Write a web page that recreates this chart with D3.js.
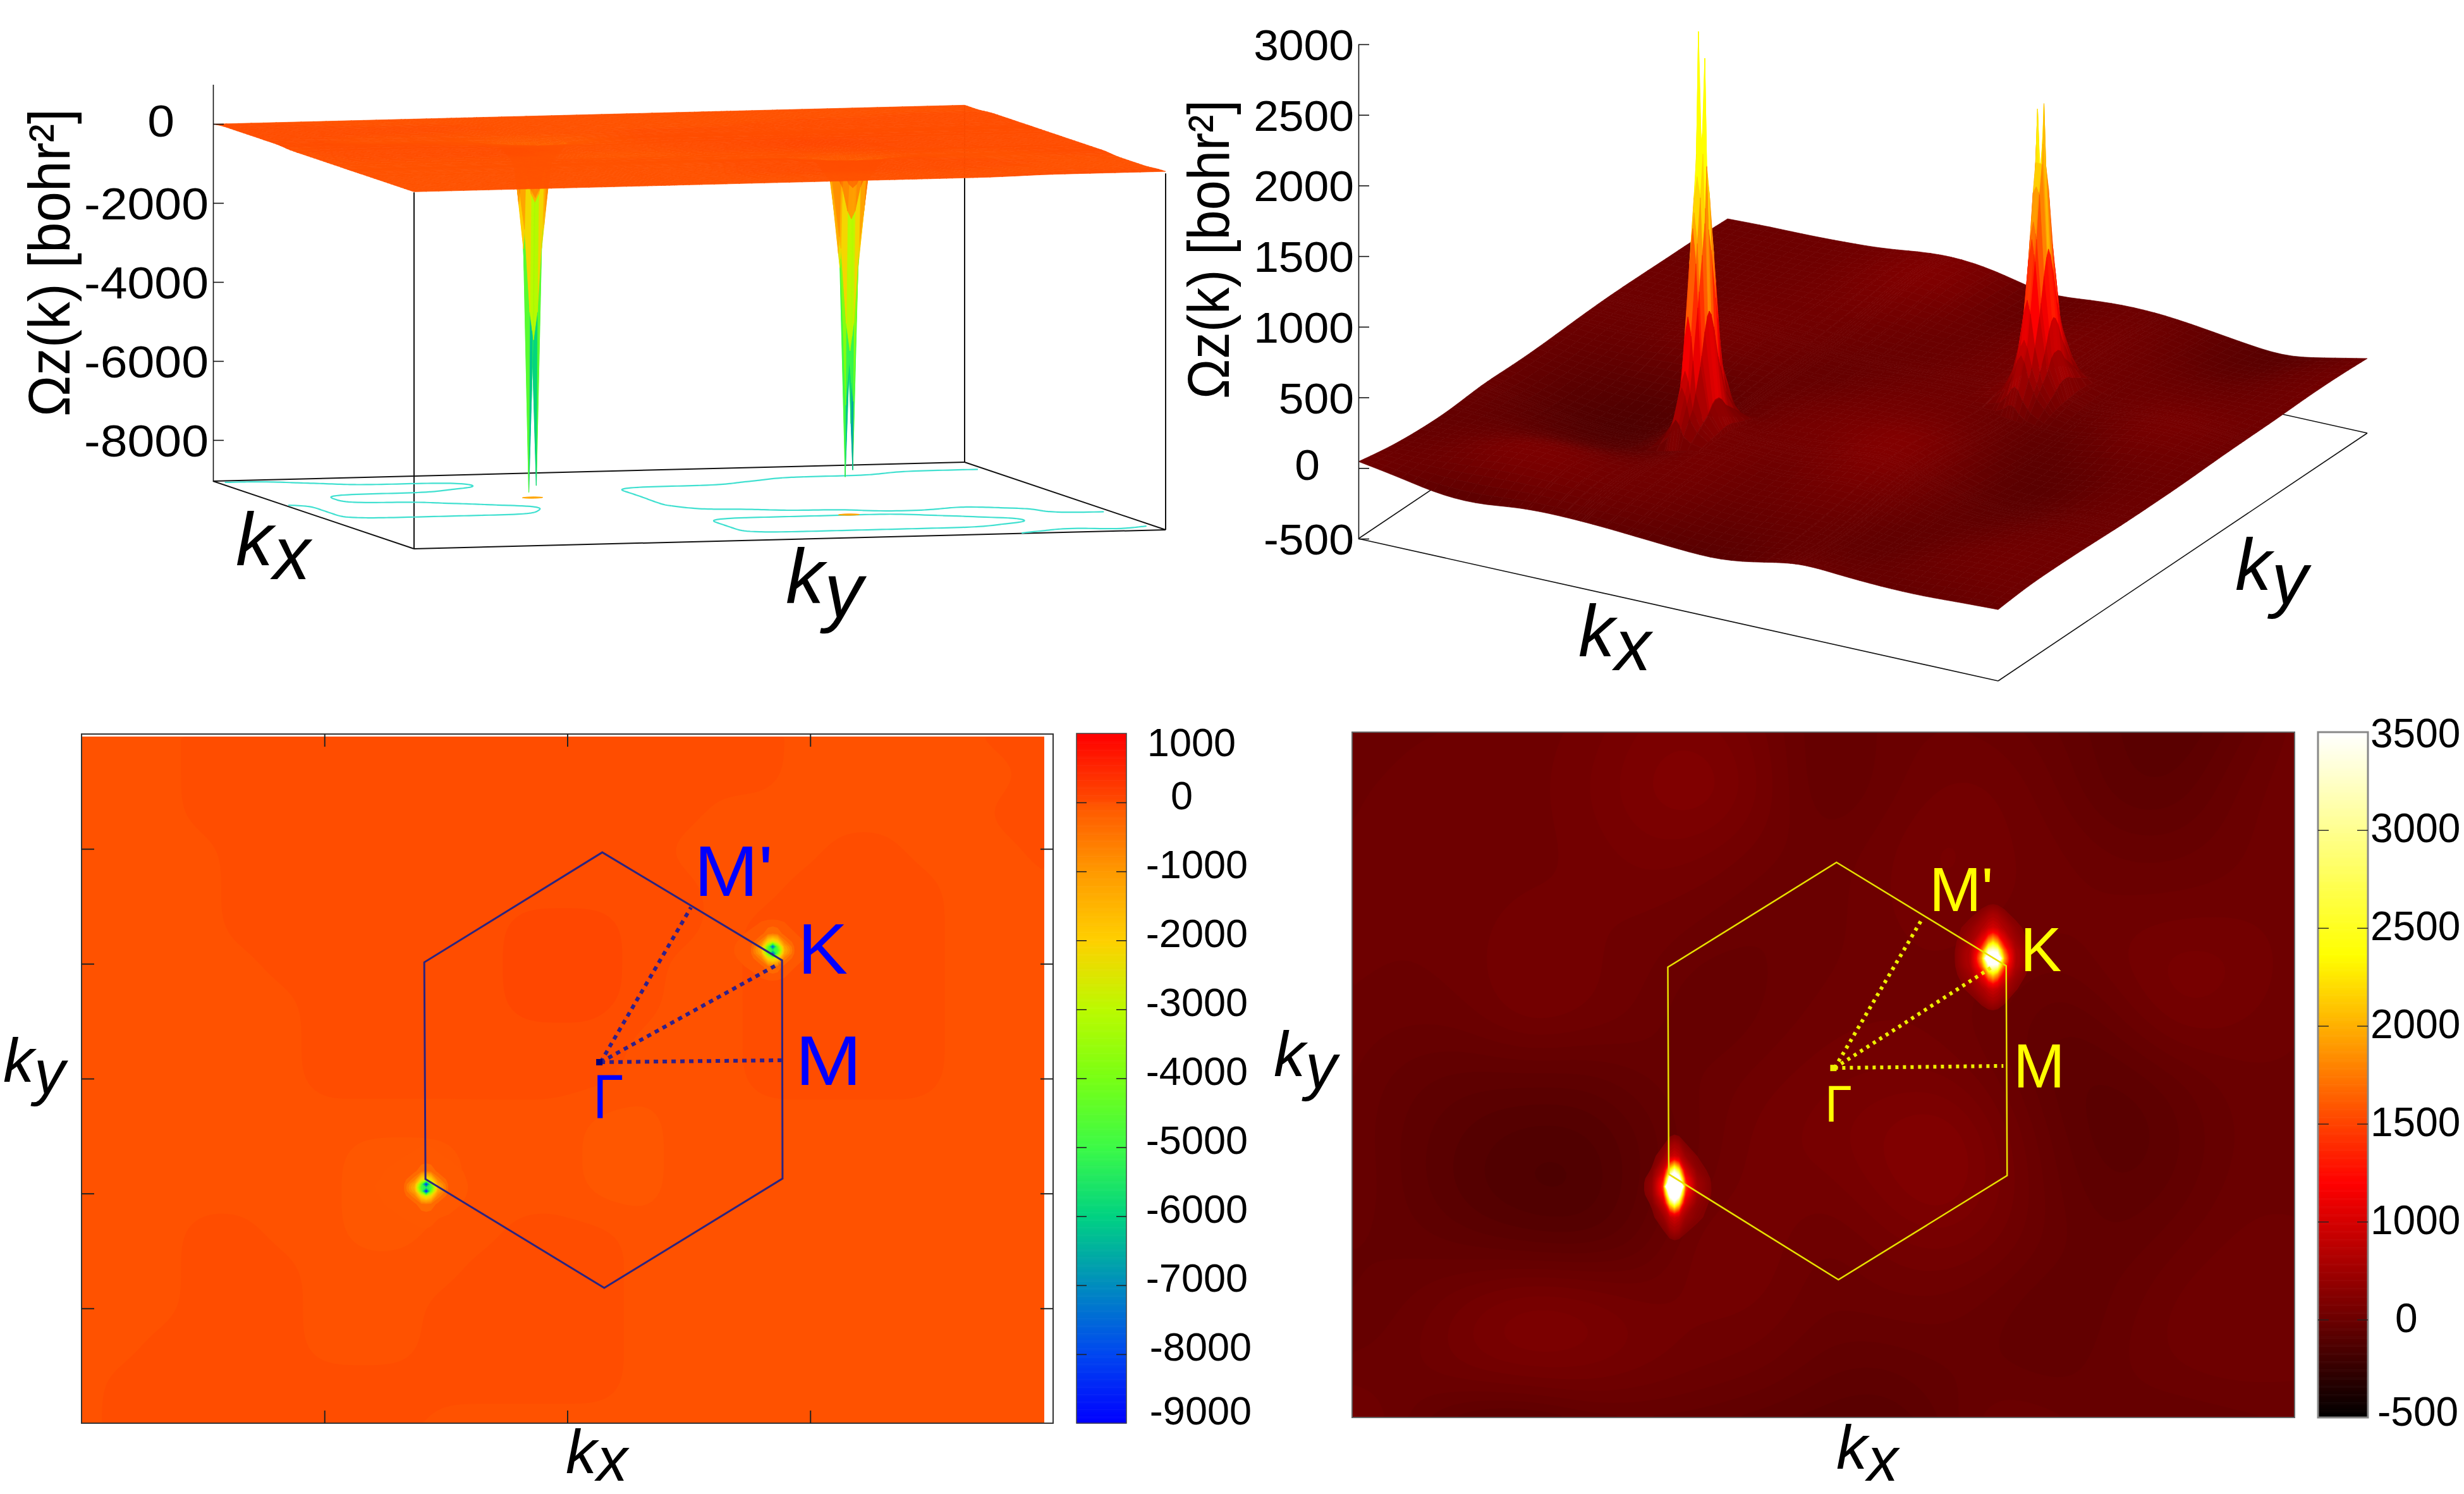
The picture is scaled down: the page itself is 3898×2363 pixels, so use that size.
<!DOCTYPE html>
<html>
<head>
<meta charset="utf-8">
<script src="https://d3js.org/d3.v7.min.js"></script>
<style>
  html, body { margin: 0; background: #fff; }
  text { font-family: "Liberation Sans", Arial, sans-serif; fill: #000; }
</style>
</head>
<body>
<svg id="fig" width="3898" height="2363" xmlns="http://www.w3.org/2000/svg"></svg>
<script>
// Berry curvature Omega_z(k) of two bands: 3D surfaces on top, colour maps below.

// Slowly varying background of the negative band, rows run from top (ky max) to bottom.
const valleyBackground = [
  [-15,-15,-15,20,20,20,20,20,20,20,20,20,20,20,20,20,20,20,-15,-15,-15,-15,-15,20,20],
  [-15,-15,-15,20,20,20,20,20,20,20,20,20,20,20,20,20,20,20,-15,-15,-15,-15,-15,-15,20],
  [-15,-15,-15,20,20,20,20,20,20,20,20,20,20,20,20,20,-15,-15,-15,-15,-15,-15,-15,20,20],
  [-15,-15,-15,-15,20,20,20,20,20,20,20,20,20,20,20,-15,-15,-15,-15,20,20,-15,-15,-15,20],
  [-15,-15,-15,-15,20,20,20,20,20,20,20,20,20,20,20,20,-15,-15,20,20,20,20,-15,-15,-15],
  [-15,-15,-15,-15,20,20,20,20,20,20,20,50,50,50,20,20,-15,20,20,20,20,20,-15,-15,-15],
  [-15,-15,-15,-15,-15,20,20,20,20,20,20,50,50,50,20,-15,-15,20,20,20,20,20,-15,-15,-15],
  [-15,-15,-15,-15,-15,-15,20,20,20,20,20,50,50,50,20,-15,-15,20,20,20,20,20,-15,-15,-15],
  [-15,-15,-15,-15,-15,-15,20,20,20,20,20,20,20,20,-15,-15,-15,20,20,20,20,20,-15,-15,-15],
  [-15,-15,-15,-15,-15,-15,20,20,20,20,20,20,20,20,-15,-15,-15,20,20,20,20,20,-15,-15,-15],
  [-15,-15,-15,-15,-15,-15,-15,-15,-15,-15,-15,-15,-15,-50,-50,-15,-15,-15,-15,-15,-15,-15,-15,-15,-15],
  [-15,-15,-15,-15,-15,-15,-15,-50,-50,-50,-15,-15,-15,-50,-50,-15,-15,-15,-15,-15,-15,-15,-15,-15,-15],
  [-15,-15,-15,-15,-15,-15,-15,-50,-50,-50,-15,-15,-15,-50,-50,-15,-15,-15,-15,-15,-15,-15,-15,-15,-15],
  [-15,-15,-15,20,20,-15,-15,-50,-50,-15,-15,20,20,20,-15,-15,-15,-15,-15,-15,-15,-15,-15,-15,-15],
  [-15,-15,-15,20,20,20,-15,-15,-15,-15,20,20,20,20,-15,-15,-15,-15,-15,-15,-15,-15,-15,-15,-15],
  [-15,-15,-15,20,20,20,-15,-15,-15,20,20,20,20,20,-15,-15,-15,-15,-15,-15,-15,-15,-15,-15,-15],
  [-15,-15,20,20,20,20,-15,-15,-15,20,20,20,20,20,-15,-15,-15,-15,-15,-15,-15,-15,-15,-15,-15],
  [-15,20,20,20,20,20,20,20,20,20,20,20,20,20,-15,-15,-15,-15,-15,-15,-15,-15,-15,-15,-15],
  [-15,20,20,20,20,20,20,20,20,-15,-15,-15,-15,-15,-15,-15,-15,-15,-15,-15,-15,-15,-15,-15,-15]
];

// Background of the positive band, same orientation.
const peakBackground = [
  [10,20,20,30,45,90,95,45,-30,5,25,15,-20,-60,-90,-30,28],
  [20,25,25,30,60,110,135,60,-35,5,45,45,0,-60,-65,5,40],
  [20,20,25,30,45,80,70,30,5,30,80,45,25,-10,-10,15,40],
  [25,20,30,45,40,45,25,0,5,40,60,45,30,25,25,30,30],
  [25,20,30,70,45,25,-5,-5,15,30,40,25,0,45,80,70,30],
  [15,5,15,70,45,15,-35,0,30,40,30,0,-50,-5,70,45,25],
  [0,-35,-50,-50,-50,-15,5,30,55,60,60,15,-65,-65,-25,15,15],
  [-5,-50,-90,-115,-110,-55,5,55,70,110,140,60,-40,-90,-50,5,15],
  [5,-50,-100,-135,-135,-50,15,60,45,90,140,70,-25,-65,-40,15,15],
  [-25,-25,-50,-70,-80,-40,80,60,5,45,70,40,-15,-40,0,30,25],
  [-20,0,60,110,95,45,45,45,0,15,15,-15,-55,-15,30,45,30],
  [0,15,70,100,85,55,30,15,-30,-40,-15,-25,-40,0,30,40,30],
  [46,0,-60,-70,-25,-20,-30,-50,-70,-85,-40,25,0,-15,-20,-5,5]
];

// Node offsets around a K point, shared by the fine tables below (dkx on columns, dky on rows).
const kOffsets = [-0.08,-0.045,-0.024,-0.012,-0.005,0,0.005,0.012,0.024,0.045,0.08];

const valleyAtK1 = [
  [0,0,-3,-5,-6,-6,-6,-5,-3,0,0],
  [0,-12,-25,-40,-55,-60,-55,-40,-25,-12,0],
  [0,-20,-80,-220,-480,-550,-480,-220,-80,-20,0],
  [0,-25,-130,-700,-2200,-2700,-2200,-700,-130,-25,0],
  [0,-30,-170,-1300,-4300,-8870,-4300,-1300,-170,-30,0],
  [0,-30,-180,-1500,-5000,-5500,-5000,-1500,-180,-30,0],
  [0,-30,-170,-1300,-4300,-8700,-4300,-1300,-170,-30,0],
  [0,-25,-130,-700,-2200,-2700,-2200,-700,-130,-25,0],
  [0,-20,-80,-220,-480,-550,-480,-220,-80,-20,0],
  [0,-12,-25,-40,-55,-60,-55,-40,-25,-12,0],
  [0,0,-3,-5,-6,-6,-6,-5,-3,0,0]
];
const valleyAtK2 = [
  [0,0,-3,-6,-7,-8,-7,-6,-3,0,0],
  [0,-14,-28,-45,-60,-70,-60,-45,-28,-14,0],
  [0,-22,-90,-250,-540,-620,-540,-250,-90,-22,0],
  [0,-28,-140,-750,-2300,-2800,-2300,-750,-140,-28,0],
  [0,-32,-180,-1350,-4200,-8090,-4200,-1350,-180,-32,0],
  [0,-32,-190,-1550,-4900,-5400,-4900,-1550,-190,-32,0],
  [0,-32,-180,-1350,-4200,-7920,-4200,-1350,-180,-32,0],
  [0,-28,-140,-750,-2300,-2800,-2300,-750,-140,-28,0],
  [0,-22,-90,-250,-540,-620,-540,-250,-90,-22,0],
  [0,-14,-28,-45,-60,-70,-60,-45,-28,-14,0],
  [0,0,-3,-6,-7,-8,-7,-6,-3,0,0]
];
const peakAtK1 = [
  [0,0,8,30,70,90,70,30,8,0,0],
  [0,20,120,240,450,520,450,240,120,20,0],
  [0,30,180,520,1250,1500,1250,520,180,30,0],
  [0,35,240,750,1700,1850,1700,750,240,35,0],
  [0,35,260,850,2000,2100,2000,850,260,35,0],
  [0,35,260,880,2860,1950,2670,880,260,35,0],
  [0,35,260,850,1950,2050,1900,850,260,35,0],
  [0,35,240,750,1700,1850,1700,750,240,35,0],
  [0,30,180,520,1250,1500,1250,520,180,30,0],
  [0,20,120,240,450,520,450,240,120,20,0],
  [0,0,8,30,70,90,70,30,8,0,0]
];
const peakAtK2 = [
  [0,0,8,40,75,85,75,40,8,0,0],
  [0,30,150,300,430,480,430,300,150,30,0],
  [0,40,240,620,1000,1150,1000,620,240,40,0],
  [0,40,320,880,1450,1500,1450,880,320,40,0],
  [0,40,340,1000,1650,1650,1650,1000,340,40,0],
  [0,40,340,1050,2020,1430,2070,1050,340,40,0],
  [0,40,340,1000,1620,1620,1620,1000,340,40,0],
  [0,40,320,880,1450,1500,1450,880,320,40,0],
  [0,40,240,620,1000,1150,1000,620,240,40,0],
  [0,30,150,300,430,480,430,300,150,30,0],
  [0,0,8,40,75,85,75,40,8,0,0]
];

// K points in fractional (kx, ky) as they appear on each plot.
const valleySurfaceK = [[0.337,0.335],[0.681,0.664]];
const valleyMapK     = [[0.358,0.343],[0.718,0.689]];
const peakK          = [[0.342,0.337],[0.680,0.670]];

// Tick labels.
const valleyZTicks = [0,-2000,-4000,-6000,-8000];
const peakZTicks = [3000,2500,2000,1500,1000,500,0,-500];
const valleyBarTicks = [1000,0,-1000,-2000,-3000,-4000,-5000,-6000,-7000,-8000,-9000];
const peakBarTicks = [3500,3000,2500,2000,1500,1000,0,-500];

// Brillouin zone outline and high-symmetry lines on each map, in axis units.
const valleyZone = [[2.144,4.97],[2.884,4.03],[2.886,2.13],[2.152,1.178],[1.416,2.125],[1.411,4.013]];
const valleyPaths = { gamma:[2.137,3.143], ends:[[2.884,3.16],[2.871,4.0],[2.509,4.49]] };
const peakZone = [[0.514,0.81],[0.694,0.659],[0.695,0.353],[0.516,0.201],[0.336,0.355],[0.335,0.657]];
const peakPaths = { gamma:[0.512,0.51], ends:[[0.691,0.513],[0.681,0.659],[0.605,0.728]] };

const valleyThresholds = [-32,2,35];
const peakThresholds = d3.range(-200,260,20);
const valleySpotLevels = d3.range(70,9000,260);
const peakSpotLevels = d3.range(-200,300,20).concat(d3.range(300,1700,50));

// ---- colour scales -------------------------------------------------------
const jet = d3.scaleLinear()
  .domain([1000,50,-50,-1000,-2000,-3000,-4000,-5000,-6000,-7000,-8000,-9000])
  .range(["#ff0000","#ff4800","#ff5700","#ff9900","#ffd000","#bbfa00","#78ff14","#3cfa46","#00d282","#008cbe","#0046f0","#0000ff"])
  .clamp(true);
const hot = d3.scaleLinear().domain([0,0.342,0.675,1]).range(["#000000","#ff0000","#ffff00","#ffffff"]).clamp(true);
const mapShade = d3.scaleLinear().domain([-500,30,700,1200,1550]).range([0,0.148,0.342,0.675,1]).clamp(true);
const surfShade = d3.scaleLinear().domain([-500,30,700,1800]).range([0,0.148,0.342,0.675]).clamp(true);

// ---- sampling helpers ----------------------------------------------------
function splineField(grid) {
  const rows = grid.map(r => d3.interpolateBasis(r));
  return (u, v) => d3.interpolateBasis(rows.map(f => f(u)))(1 - v);
}
function fineValue(table, centre, u, v) {
  const du = u - centre[0], dv = v - centre[1], last = kOffsets.length - 1;
  if (Math.abs(du) >= kOffsets[last] || Math.abs(dv) >= kOffsets[last]) return 0;
  const i = Math.min(last - 1, Math.max(0, d3.bisectRight(kOffsets, du) - 1));
  const j = Math.min(last - 1, Math.max(0, d3.bisectRight(kOffsets, dv) - 1));
  const a = (du - kOffsets[i]) / (kOffsets[i+1] - kOffsets[i]);
  const b = (dv - kOffsets[j]) / (kOffsets[j+1] - kOffsets[j]);
  return d3.interpolateNumber(
    d3.interpolateNumber(table[j][i], table[j][i+1])(a),
    d3.interpolateNumber(table[j+1][i], table[j+1][i+1])(a))(b);
}
function meshLevels(centres) {
  const seen = new Map();
  d3.range(61).forEach(i => seen.set((i/60).toFixed(4), i/60));
  centres.forEach(c => kOffsets.forEach(o => seen.set((c+o).toFixed(4), c+o)));
  return Array.from(seen.values()).sort(d3.ascending);
}

const svg = d3.select("#fig");
const plainNumber = d => String(d);

// ---- 3D surface ----------------------------------------------------------
function drawSurface(o) {
  const g = svg.append("g");
  const sx = d3.scaleLinear([0,1],[0,o.uVec[0]]), sy = d3.scaleLinear([0,1],[0,o.uVec[1]]);
  const tx = d3.scaleLinear([0,1],[0,o.vVec[0]]), ty = d3.scaleLinear([0,1],[0,o.vVec[1]]);
  const zBase = o.z(o.z.domain()[0]);
  const proj = (u,v,z) => [o.origin[0]+sx(u)+tx(v), o.origin[1]+sy(u)+ty(v)+o.z(z)-zBase];
  const floor = o.z.domain()[0];
  const corner = (u,v,z) => proj(u,v,z===undefined?floor:z);
  const line = d3.line();

  // Box lines behind the surface.
  const box = [
    [corner(0,0),corner(1,0)],[corner(1,0),corner(1,1)],[corner(1,1),corner(0,1)],[corner(0,1),corner(0,0)]
  ].concat(o.verticals.map(c => [corner(c[0],c[1]), corner(c[0],c[1],c[2])]));
  g.selectAll("path.box").data(box).join("path").attr("class","box")
    .attr("d",d => line(d)).attr("fill","none").attr("stroke","#111").attr("stroke-width",o.boxWidth);

  if (o.floorContour) o.floorContour(g, corner, line);

  // Height field on a mesh refined around both K points.
  const field = splineField(o.grid);
  const us = meshLevels(o.centres.map(c => c[0])), vs = meshLevels(o.centres.map(c => c[1]));
  const zAt = us.map(u => vs.map(v =>
    field(u,v) + d3.sum(o.tables, (t,i) => fineValue(t,o.centres[i],u,v))));
  const quads = [];
  for (let i = 0; i < us.length-1; i++) for (let j = vs.length-2; j >= 0; j--) {
    const cs = [[i,j],[i+1,j],[i+1,j+1],[i,j+1]];
    quads.push({
      d: line(cs.map(c => proj(us[c[0]],vs[c[1]],zAt[c[0]][c[1]])))+"Z",
      z: d3.mean(cs, c => zAt[c[0]][c[1]])
    });
  }
  g.selectAll("path.face").data(quads).join("path").attr("class","face")
    .attr("d",d => d.d).attr("fill",d => o.color(d.z)).attr("stroke",d => o.color(d.z)).attr("stroke-width",0.7);

  // Height axis along the left corner.
  const axis = g.append("g").attr("transform",`translate(${o.origin[0]},0)`)
    .call(d3.axisLeft(o.z).tickValues(o.ticks).tickSizeInner(-17).tickSizeOuter(0).tickPadding(7).tickFormat(plainNumber));
  axis.select(".domain").attr("stroke","#111").attr("stroke-width",1.6);
  axis.selectAll(".tick line").attr("stroke","#111").attr("stroke-width",1.6);
  axis.selectAll(".tick text")
    .attr("font-size",o.tickFont).attr("x",null).attr("dy","0.36em")
    .attr("transform",d => `translate(${(d===0?-61:-7)},${d===0?-6:o.tickShift}) scale(${o.tickStretch},1)`);
}

function stretchText(sel, x, y, size, str, stretch) {
  return sel.append("text").attr("font-size",size)
    .attr("transform",`translate(${x},${y}) scale(${stretch||1},1)`).text(str);
}
function axisTitle(x, yStart, length, size) {
  svg.append("text").attr("font-size",size)
    .attr("transform",`translate(${x},${yStart}) rotate(-90)`)
    .attr("textLength",length).attr("lengthAdjust","spacingAndGlyphs")
    .text("Ωz(k) [bohr²]");
}
function kLabel(x, y, size, sub, drop) {
  const t = svg.append("text").attr("x",x).attr("y",y).attr("font-size",size).attr("font-style","italic");
  t.append("tspan").text("k");
  t.append("tspan").attr("dy",drop === undefined ? size*0.19 : drop).text(sub);
}

// Floor contour lines of the valley band, broken where they run into the box edge.
function valleyFloor(g, corner, line) {
  const nx = 200, ny = 150, field = splineField(valleyBackground);
  const values = d3.range(ny).flatMap(j => d3.range(nx).map(i => field((i+0.5)/nx, 1-(j+0.5)/ny)));
  const shape = d3.contours().size([nx,ny]).thresholds([valleyThresholds[1]])(values)[0];
  const segs = [];
  shape.coordinates.forEach(poly => poly.forEach(ring => {
    let cur = [];
    ring.forEach(p => {
      const edge = p[0] <= 0.6 || p[0] >= nx-0.6 || p[1] <= 0.6 || p[1] >= ny-0.6;
      if (edge) { if (cur.length > 1) segs.push(cur); cur = []; }
      else cur.push(corner(p[0]/nx, 1-p[1]/ny));
    });
    if (cur.length > 1) segs.push(cur);
  }));
  g.selectAll("path.lvl").data(segs).join("path").attr("class","lvl")
    .attr("d",d => line(d)).attr("fill","none").attr("stroke","#40e0d0").attr("stroke-width",2.2);

  // Deepest part of each valley projected on the floor.
  const idx = d3.scaleLinear().domain(d3.range(kOffsets.length)).range(kOffsets).clamp(true);
  [valleyAtK1, valleyAtK2].forEach((table,k) => {
    const flat = table.flat().map(v => -v);
    const c = d3.contours().size([11,11]).thresholds([2400])(flat)[0];
    const centre = valleySurfaceK[k];
    c.coordinates.forEach(poly => {
      g.append("path").attr("fill","#ffa500").attr("stroke","#ffa500")
        .attr("d", line(poly[0].map(p => corner(centre[0]+idx(p[0]-0.5), centre[1]+idx(p[1]-0.5))))+"Z");
    });
  });
}

drawSurface({
  origin:[337,761], uVec:[318,107], vVec:[1189,-30],
  z:d3.scaleLinear([-9050,1000],[761.6,133.5]),
  grid:valleyBackground, tables:[valleyAtK1,valleyAtK2], centres:valleySurfaceK,
  color:jet, ticks:valleyZTicks,
  verticals:[[1,0,-30],[1,1,-30],[0,1,-30]],
  boxWidth:2, tickFont:70, tickStretch:1.1, tickShift:0,
  floorContour:valleyFloor
});
drawSurface({
  origin:[2149,852], uVec:[1012,225], vVec:[584,-392],
  z:d3.scaleLinear([-500,3000],[852,70]),
  grid:peakBackground, tables:[peakAtK1,peakAtK2], centres:peakK,
  color:z => hot(surfShade(z)), ticks:peakZTicks,
  verticals:[],
  boxWidth:1.6, tickFont:68, tickStretch:1.05, tickShift:0
});

axisTitle(110,659,487,92);
axisTitle(1944,631,473,92);
kLabel(373,894,118,"x");
kLabel(1243,954,122,"y");
kLabel(2497,1038,115,"x");
kLabel(3536,933,115,"y");

// ---- colour map ----------------------------------------------------------
function drawMap(o) {
  const g = svg.append("g");
  const X = d3.scaleLinear([0,1],o.dataX), Y = d3.scaleLinear([0,1],o.dataY);
  const nx = 200, ny = 150, field = splineField(o.grid);
  const values = d3.range(ny).flatMap(j => d3.range(nx).map(i => field((i+0.5)/nx, 1-(j+0.5)/ny)));
  const path = d3.geoPath(d3.geoTransform({ point(x,y){ this.stream.point(X(x/nx), Y(1-y/ny)); } }));

  g.append("rect").attr("x",o.dataX[0]).attr("y",o.dataY[1])
    .attr("width",o.dataX[1]-o.dataX[0]).attr("height",o.dataY[0]-o.dataY[1])
    .attr("fill",o.shade(o.thresholds[0]-20));
  const bands = d3.contours().size([nx,ny]).thresholds(o.thresholds)(values);
  g.selectAll("path.band").data(bands).join("path").attr("class","band")
    .attr("d",path).attr("fill",(d,i) => o.shade(d.value + (i+1<o.thresholds.length ? (o.thresholds[i+1]-d.value)/2 : 30)));

  // Sharp features around K: background plus fine table, levelled on the same scale.
  const idx = d3.scaleLinear().domain(d3.range(kOffsets.length)).range(kOffsets).clamp(true);
  o.tables.forEach((table,k) => {
    const centre = o.centres[k];
    const flat = table.flatMap((row,r) => row.map((v,c) =>
      o.sign*(v + field(centre[0]+kOffsets[c], centre[1]+kOffsets[r]))));
    const rim = d3.max(flat.filter((v,n) => { const c = n%11, r = Math.floor(n/11); return c===0||c===10||r===0||r===10; }));
    const spot = d3.geoPath(d3.geoTransform({ point(x,y){
      this.stream.point(X(centre[0]+idx(x-0.5)), Y(centre[1]+idx(y-0.5)));
    } }));
    const lv = d3.contours().size([11,11]).thresholds(o.spotLevels.filter(l => l > rim))(flat);
    g.selectAll(null).data(lv).join("path").attr("d",spot)
      .attr("fill",d => o.shade(d.value*o.sign));
  });

  // Zone boundary, high-symmetry lines, labels.
  const line = d3.line().x(d => o.ax(d[0])).y(d => o.ay(d[1]));
  g.append("path").attr("d",line(o.zone)+"Z").attr("fill","none").attr("stroke",o.lineColor).attr("stroke-width",o.zoneWidth);
  g.selectAll("path.dot").data(o.paths.ends).join("path").attr("class","dot")
    .attr("d",d => line([o.paths.gamma,d])).attr("fill","none").attr("stroke",o.dotColor)
    .attr("stroke-width",6).attr("stroke-dasharray",o.dash);
  g.append("rect").attr("x",o.ax(o.paths.gamma[0])-7).attr("y",o.ay(o.paths.gamma[1])-5).attr("width",10).attr("height",10).attr("fill",o.markColor);

  // Frame.
  g.append("rect").attr("x",o.frameX[0]).attr("y",o.frameY[1]).attr("width",o.frameX[1]-o.frameX[0]).attr("height",o.frameY[0]-o.frameY[1])
    .attr("fill","none").attr("stroke",o.frameColor).attr("stroke-width",2);

  o.labels.forEach(l => stretchText(g,l[1],l[2],l[3],l[0],l[4]).style("fill",o.textColor));
}

const valleyAxX = d3.scaleLinear([0,4],[129,1666]), valleyAxY = d3.scaleLinear([0,6],[2251,1161]);
drawMap({
  dataX:[129,1652], dataY:[2251,1165], frameX:[129,1666], frameY:[2251,1161],
  grid:valleyBackground, thresholds:valleyThresholds, shade:v => jet(v),
  tables:[valleyAtK1,valleyAtK2], centres:valleyMapK, sign:-1, spotLevels:valleySpotLevels,
  zone:valleyZone, paths:valleyPaths, ax:valleyAxX, ay:valleyAxY,
  lineColor:"#2b2480", dotColor:"#30208a", markColor:"#00007a", zoneWidth:3, dash:"7 7", frameColor:"#333",
  textColor:"#0000ff",
  labels:[["M'",1098,1417,113,1.08],["K",1262,1540,113,1.05],["M",1258,1716,112,1.13],["Γ",938,1768,98,0.9]]
});
// Inward ticks on all four sides of the left map.
[[d3.axisBottom(valleyAxX),0,2251],[d3.axisTop(valleyAxX),0,1161],[d3.axisLeft(valleyAxY),129,0],[d3.axisRight(valleyAxY),1666,0]].forEach(([a,x,y]) => {
  const isX = a.scale() === valleyAxX;
  const ax = svg.append("g").attr("transform",`translate(${x},${y})`)
    .call(a.tickValues(isX ? [1,2,3] : [1,2,3,4,5]).tickSizeInner(-20).tickSizeOuter(0).tickFormat(""));
  ax.select(".domain").remove();
  ax.selectAll(".tick line").attr("stroke","#222").attr("stroke-width",2);
});

const peakAxX = d3.scaleLinear([0,1],[2139,3630]), peakAxY = d3.scaleLinear([0,1],[2242,1158]);
drawMap({
  dataX:[2139,3630], dataY:[2242,1158], frameX:[2139,3630], frameY:[2242,1158],
  grid:peakBackground, thresholds:peakThresholds, shade:v => hot(mapShade(v)),
  tables:[peakAtK1,peakAtK2], centres:peakK, sign:1, spotLevels:peakSpotLevels,
  zone:peakZone, paths:peakPaths, ax:peakAxX, ay:peakAxY,
  lineColor:"#e8e000", dotColor:"#eeee00", markColor:"#eeee00", zoneWidth:2.5, dash:"5 7", frameColor:"#666",
  textColor:"#ffff00",
  labels:[["M'",3052,1441,99,1],["K",3196,1536,98,1],["M",3185,1720,98,1],["Γ",2887,1774,82,0.95]]
});

kLabel(5,1711,98,"y");
kLabel(895,2330,98,"x",12);
kLabel(2015,1702,100,"y");
kLabel(2905,2323,98,"x",19);

// ---- colour bars ---------------------------------------------------------
const valleyBarY = d3.scaleLinear([-9000,1000],[2251,1160]);
const vbar = svg.append("g");
vbar.selectAll("rect").data(d3.range(-9000,1000,20)).join("rect")
  .attr("x",1703).attr("width",79).attr("y",d => valleyBarY(d+20)).attr("height",d => valleyBarY(d)-valleyBarY(d+20)+0.6)
  .attr("fill",d => jet(d+10));
vbar.append("rect").attr("x",1703).attr("y",1160).attr("width",79).attr("height",1091).attr("fill","none").attr("stroke","#444").attr("stroke-width",1.5);
const vInner = valleyBarTicks.filter(d => d !== 1000 && d !== -9000);
const vAxisL = vbar.append("g").attr("transform","translate(1703,0)").call(d3.axisLeft(valleyBarY).tickValues(vInner).tickSizeInner(-16).tickSizeOuter(0).tickFormat(""));
const vAxisR = vbar.append("g").attr("transform","translate(1782,0)").call(d3.axisRight(valleyBarY).tickValues(valleyBarTicks).tickSizeInner(-16).tickSizeOuter(0).tickPadding(0).tickFormat(plainNumber));
vAxisL.select(".domain").remove(); vAxisR.select(".domain").remove();
vAxisL.selectAll(".tick line").attr("stroke","#222").attr("stroke-width",1.6);
vAxisR.selectAll(".tick line").attr("stroke",d => (d===1000||d===-9000)?"none":"#222").attr("stroke-width",1.6);
vAxisR.selectAll(".tick text").attr("font-size",63).attr("text-anchor","end")
  .attr("x",d => d===1000 ? 173 : d===0 ? 105 : d===-8000||d===-9000 ? 198 : 192)
  .attr("dy",d => d===1000 ? 35 : d===-9000 ? 1 : 10);

const peakBarFrac = d3.scaleLinear([0,1],[2242,1158]);
const peakBarY = d3.scaleLinear().domain([-500,0,1000,1500,2000,2500,3000,3500]).range(d3.range(8).map(i => peakBarFrac(i/7)));
const pbar = svg.append("g");
pbar.selectAll("rect").data(d3.range(0,1,0.002)).join("rect")
  .attr("x",3667).attr("width",79).attr("y",d => peakBarFrac(d+0.002)).attr("height",d => peakBarFrac(d)-peakBarFrac(d+0.002)+0.6)
  .attr("fill",d => hot(d+0.001));
pbar.append("rect").attr("x",3667).attr("y",1158).attr("width",79).attr("height",1084).attr("fill","none").attr("stroke","#888").attr("stroke-width",3);
const pTicks = [3000,2500,2000,1500,1000,0];
const pAxisL = pbar.append("g").attr("transform","translate(3667,0)").call(d3.axisLeft(peakBarY).tickValues(pTicks).tickSizeInner(-17).tickSizeOuter(0).tickFormat(""));
const pAxisR = pbar.append("g").attr("transform","translate(3746,0)").call(d3.axisRight(peakBarY).tickValues(peakBarTicks).tickSizeInner(-17).tickSizeOuter(0).tickFormat(plainNumber));
pAxisL.select(".domain").remove(); pAxisR.select(".domain").remove();
pAxisL.selectAll(".tick line").attr("stroke","#222").attr("stroke-width",1.4);
pAxisR.selectAll(".tick line").attr("stroke",d => (d===3500||d===-500)?"none":"#222").attr("stroke-width",1.4);
pAxisR.selectAll(".tick text").attr("font-size",64).attr("text-anchor","start")
  .attr("x",d => d===0 ? 43 : d===-500 ? 15 : 4)
  .attr("dy",d => d===3500 ? 23 : d===-500 ? 12 : 19);
</script>
</body>
</html>
